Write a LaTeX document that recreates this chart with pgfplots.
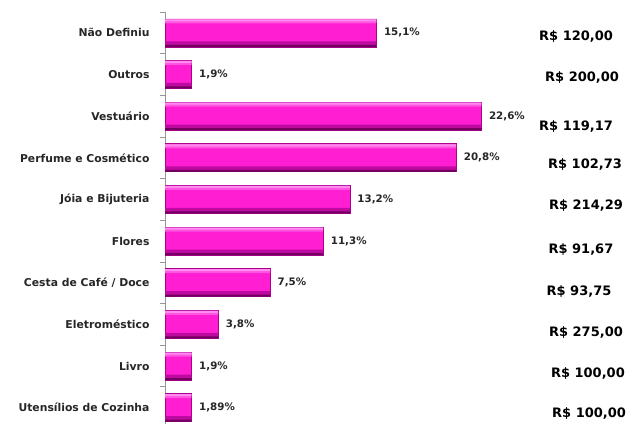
\documentclass[border=0pt]{standalone}
\usepackage{pgfplots}
\usepackage{pgfplotstable}
\pgfplotsset{compat=1.18}
\usepackage{fontspec}
\setmainfont{DejaVu Sans}
\definecolor{axgrey}{RGB}{150,150,150}
\definecolor{barbody}{RGB}{255,30,210}
\definecolor{barhi}{RGB}{255,140,238}
\definecolor{barhi2}{RGB}{255,85,225}
\definecolor{barlo}{RGB}{190,10,160}
\definecolor{barlo2}{RGB}{115,0,95}
\definecolor{baredge}{RGB}{170,0,140}
\pgfplotstableread[col sep=comma]{
x,y,lab
15.1,0,{15,1\%}
1.9,1,{1,9\%}
22.6,2,{22,6\%}
20.8,3,{20,8\%}
13.2,4,{13,2\%}
11.3,5,{11,3\%}
7.5,6,{7,5\%}
3.8,7,{3,8\%}
1.9,8,{1,9\%}
1.89,9,{1,89\%}
}\pct
\begin{document}
\begin{tikzpicture}
\path[use as bounding box] (0,0) rectangle (629pt,423pt);
\begin{axis}[
  at={(165pt,-5.5pt)}, anchor=south west,
  scale only axis, width=448pt, height=416.5pt,
  xmin=0, xmax=32, ymin=-0.5, ymax=9.5, y dir=reverse,
  axis x line=none, axis y line*=left,
  y axis line style={draw=axgrey, line width=0.8pt},
  ytick={0,...,9},
  yticklabels={N\~ao Definiu,Outros,Vestu\'ario,Perfume e Cosm\'etico,J\'oia e Bijuteria,Flores,Cesta de Caf\'e / Doce,Eletrom\'estico,Livro,Utens\'ilios de Cozinha},
  major tick length=0pt,
  extra y ticks={-0.5,0.5,...,9.5},
  extra y tick labels={},
  extra y tick style={major tick length=5pt, tick align=outside, tick style={draw=axgrey, line width=0.8pt}},
  yticklabel style={font=\bfseries\fontsize{10.8}{12}\selectfont, text=black!85, anchor=east, xshift=-12pt},
  clip=false,
]
% main bar body
\addplot[xbar, bar width=28pt, fill=barbody, draw=baredge, line width=0.6pt,
  nodes near coords, point meta=explicit symbolic,
  nodes near coords style={anchor=west, xshift=4pt, font=\bfseries\fontsize{10.3}{11}\selectfont, text=black!85}]
  table[x=x, y=y, meta=lab] {\pct};
% top highlight bands
\addplot[xbar, bar width=4pt, bar shift=11.5pt, fill=barhi2, draw=none] table[x=x, y=y] {\pct};
\addplot[xbar, bar width=2pt, bar shift=12.5pt, fill=barhi, draw=none] table[x=x, y=y] {\pct};
% bottom shadow bands
\addplot[xbar, bar width=5pt, bar shift=-11pt, fill=barlo, draw=none] table[x=x, y=y] {\pct};
\addplot[xbar, bar width=2pt, bar shift=-13pt, fill=barlo2, draw=none] table[x=x, y=y] {\pct};
\addplot[only marks, mark=*, mark size=0pt, mark options={draw=none,fill=none},
  nodes near coords, point meta=explicit symbolic,
  nodes near coords style={anchor=center, inner sep=0pt, font=\bfseries\fontsize{13}{14}\selectfont, text=black}]
coordinates {
(29.36,0.10) [R\$ 120,00]
(29.79,1.08) [R\$ 200,00]
(29.36,2.26) [R\$ 119,17]
(30.00,3.15) [R\$ 102,73]
(30.07,4.15) [R\$ 214,29]
(29.71,5.21) [R\$ 91,67]
(29.57,6.22) [R\$ 93,75]
(30.07,7.20) [R\$ 275,00]
(30.21,8.19) [R\$ 100,00]
(30.29,9.15) [R\$ 100,00]
};
\end{axis}
\end{tikzpicture}
\end{document}
